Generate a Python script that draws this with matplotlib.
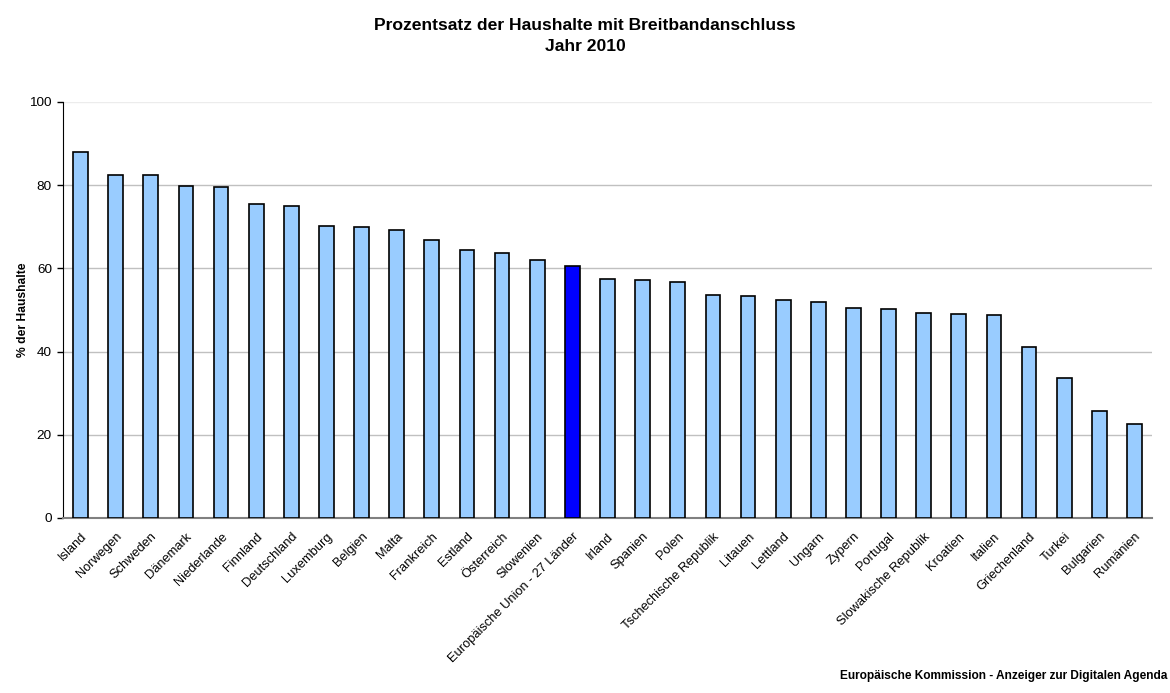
import matplotlib
matplotlib.use("Agg")
import matplotlib.pyplot as plt

countries = ["Island", "Norwegen", "Schweden", "Dänemark", "Niederlande", "Finnland",
             "Deutschland", "Luxemburg", "Belgien", "Malta", "Frankreich", "Estland",
             "Österreich", "Slowenien", "Europäische Union - 27 Länder", "Irland", "Spanien",
             "Polen", "Tschechische Republik", "Litauen", "Lettland", "Ungarn", "Zypern",
             "Portugal", "Slowakische Republik", "Kroatien", "Italien", "Griechenland",
             "Turkei", "Bulgarien", "Rumänien"]
values = [88.0, 82.4, 82.4, 79.9, 79.5, 75.6, 75.0, 70.2, 69.9, 69.2, 66.8, 64.4,
          63.6, 61.9, 60.6, 57.4, 57.2, 56.7, 53.6, 53.4, 52.4, 52.0, 50.5, 50.2,
          49.2, 49.0, 48.7, 41.0, 33.6, 25.8, 22.7]
highlight = "Europäische Union - 27 Länder"
yticks = [0, 20, 40, 60, 80, 100]

plt.rcParams['font.family'] = ['Liberation Sans', 'DejaVu Sans']

fig = plt.figure(figsize=(11.7, 6.93), dpi=100)
ax = fig.add_axes([63/1170, 1-518/693, (1152-63)/1170, (518-102)/693])

colors = ["#0000ff" if c == highlight else "#99ccff" for c in countries]
x = range(len(countries))
ax.bar(x, values, width=0.42, color=colors, edgecolor="black", linewidth=1.2, zorder=3)

ax.set_xlim(-0.5, len(countries) - 0.5)
ax.set_ylim(0, 100)
ax.set_yticks(yticks)
ax.set_yticklabels([str(t) for t in yticks], fontsize=9.7)
ax.yaxis.grid(True, color="#c0c0c0", linewidth=1, zorder=0)
ax.get_ygridlines()[-1].set_color("#ececec")
ax.set_axisbelow(True)
ax.set_xticks(list(x))
ax.set_xticklabels(countries, rotation=45, ha="right", rotation_mode="anchor", fontsize=9.3)
ax.tick_params(axis="x", length=0, pad=9)
ax.tick_params(axis="y", length=4, width=1, direction="out", pad=4)
for lbl in ax.get_xticklabels():
    lbl.set_x(lbl.get_position()[0])

for s in ["top", "right"]:
    ax.spines[s].set_visible(False)
ax.spines["left"].set_color("black")
ax.spines["bottom"].set_color("#808080")
ax.spines["bottom"].set_linewidth(1.5)

ax.set_ylabel("% der Haushalte", fontsize=8.7, fontweight="bold", labelpad=0)

fig.text(0.5, 1-36/693, "Prozentsatz der Haushalte mit Breitbandanschluss\nJahr 2010",
         ha="center", va="center", fontsize=12.6, fontweight="bold", linespacing=1.5)
fig.text(1-3/1170, 1-676/693, "Europäische Kommission - Anzeiger zur Digitalen Agenda",
         ha="right", va="center", fontsize=8.55, fontweight="bold")

fig.savefig("out.png", dpi=100)
